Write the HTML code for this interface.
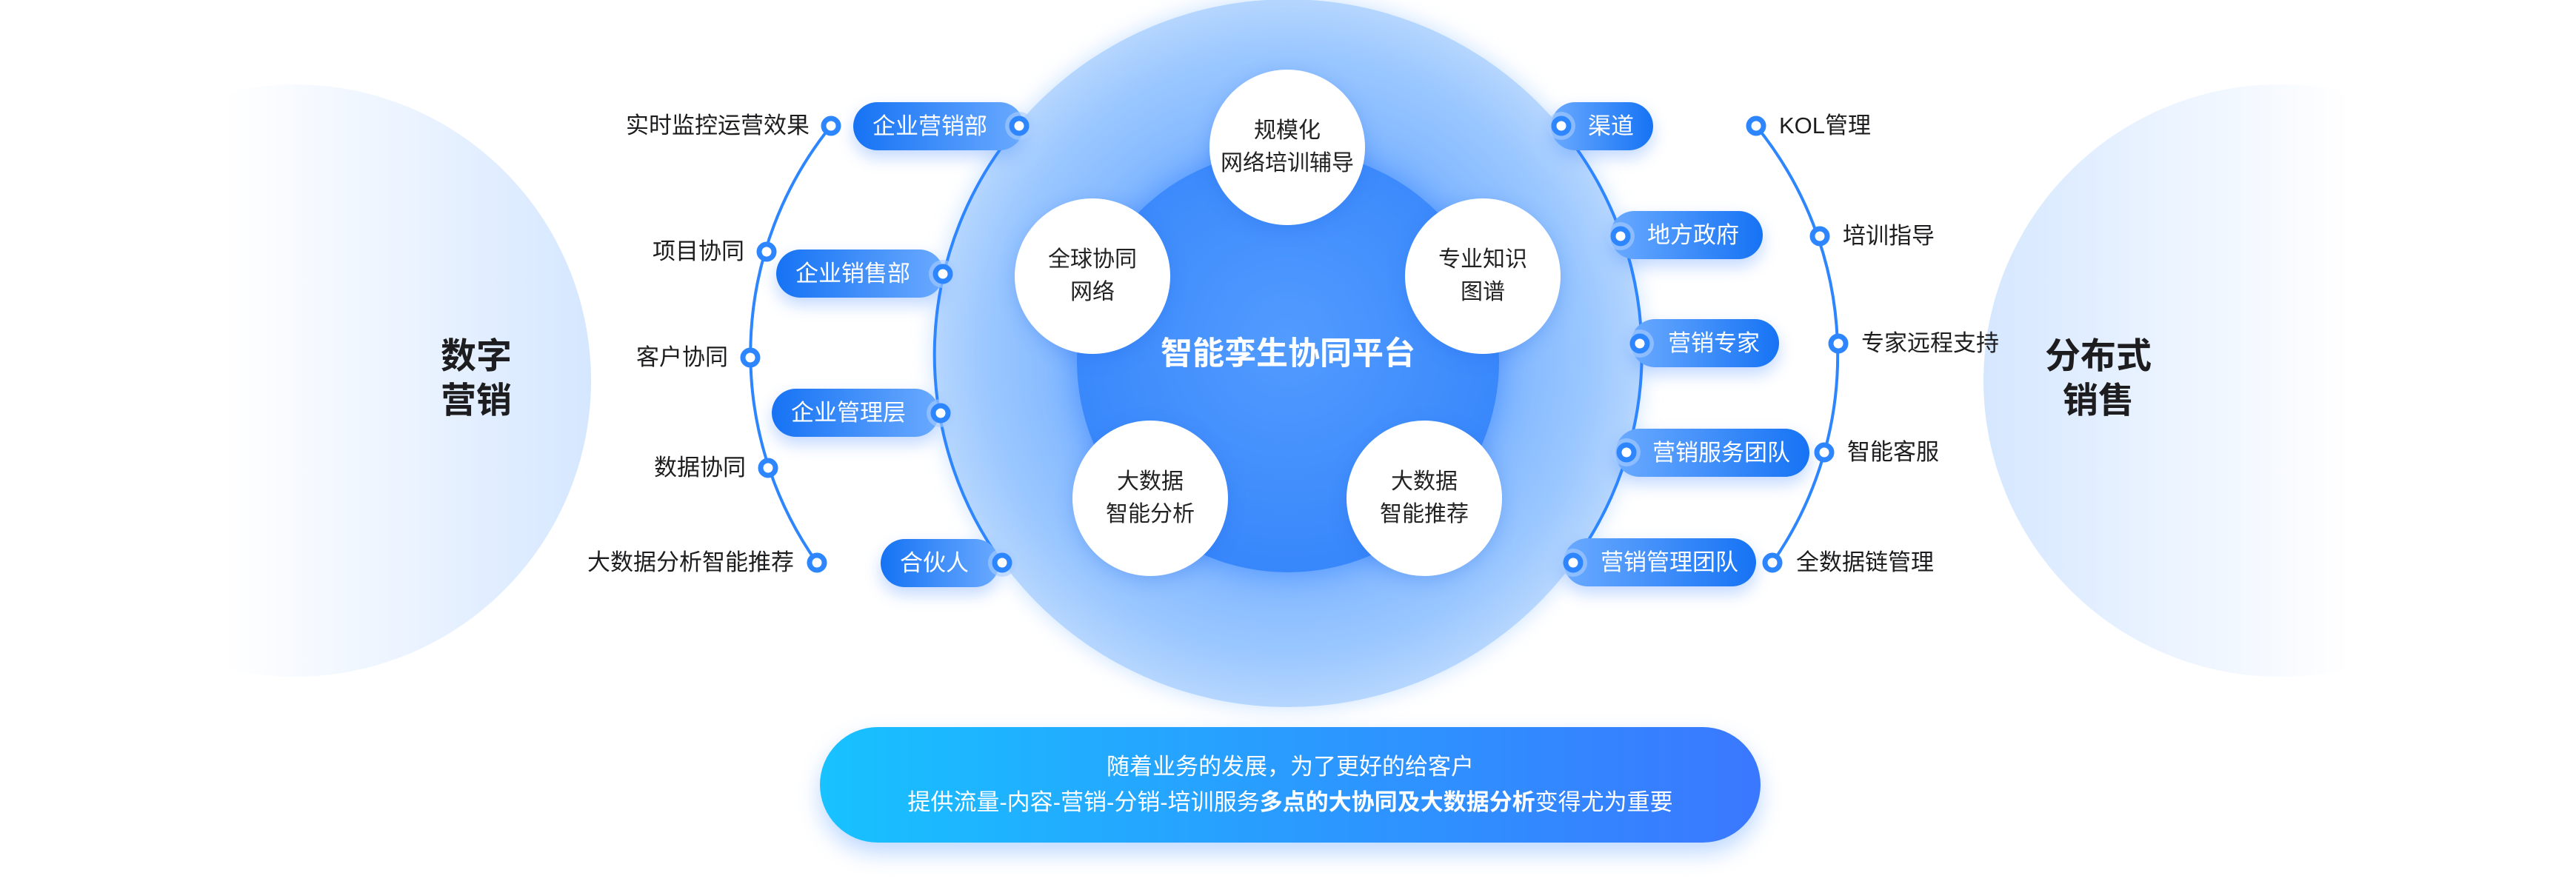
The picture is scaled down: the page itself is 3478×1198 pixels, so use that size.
<!DOCTYPE html>
<html><head><meta charset="utf-8"><style>
*{margin:0;padding:0;box-sizing:border-box}
body{width:3478px;height:1198px;background:#fff;position:relative;overflow:hidden;font-family:"Liberation Sans","Noto Sans CJK SC",sans-serif}
.abs{position:absolute}
.bub{position:absolute;width:800px;height:800px;border-radius:50%;top:114px}
.big{position:absolute;font-size:48px;font-weight:bold;color:#1d1d1f;line-height:60px;text-align:center;width:200px}
.pill{position:absolute;height:65px;border-radius:33px;color:#fff;font-size:31px;line-height:65px;box-shadow:0 10px 22px rgba(40,120,255,.28)}
.pl{background:linear-gradient(90deg,#1673f4,#6aaaff);padding-left:26px}
.pr{background:linear-gradient(90deg,#6aaaff,#1673f4);padding-left:50px}
.lab{position:absolute;font-size:31px;color:#1d1d1f;line-height:40px;white-space:nowrap}
.sat{position:absolute;width:210px;height:210px;border-radius:50%;background:#fff;box-shadow:0 6px 24px rgba(30,100,230,.25);font-size:30px;line-height:44px;color:#222;display:flex;align-items:center;justify-content:center;text-align:center}
</style></head><body>
<div class="bub" style="left:-2px;background:linear-gradient(90deg,#fff 38%,#eef5ff 65%,#d5e7ff 100%)"></div>
<div class="bub" style="left:2678px;background:linear-gradient(270deg,#fff 38%,#eef5ff 65%,#d5e7ff 100%)"></div>
<div class="big" style="left:543px;top:452px">数字<br>营销</div>
<div class="big" style="left:2733px;top:452px">分布式<br>销售</div>

<div class="abs" style="left:1261px;top:-1px;width:956px;height:956px;border-radius:50%;background:radial-gradient(circle,#6aa9ff 0%,#7cb4ff 40%,#9ac7ff 60%,#c8e0fe 78%,#eef6ff 90%,#c0dbff 96%,#94c1ff 100%);box-shadow:0 0 30px rgba(120,180,255,.4)"></div>
<div class="abs" style="left:1454px;top:203px;width:570px;height:570px;border-radius:50%;background:radial-gradient(circle at 50% 45%,#529bff,#3988fb 70%,#3182f8);box-shadow:0 0 40px rgba(40,120,255,.55)"></div>
<div class="abs" style="left:1539px;top:448px;width:400px;text-align:center;color:#fff;font-weight:bold;font-size:43px;line-height:60px">智能孪生协同平台</div>

<div class="sat" style="left:1633px;top:94px">规模化<br>网络培训辅导</div>
<div class="sat" style="left:1370px;top:268px">全球协同<br>网络</div>
<div class="sat" style="left:1897px;top:268px">专业知识<br>图谱</div>
<div class="sat" style="left:1448px;top:568px">大数据<br>智能分析</div>
<div class="sat" style="left:1818px;top:568px">大数据<br>智能推荐</div>

<svg class="abs" style="left:0;top:0" width="3478" height="1198">
<g fill="none" stroke="#2e86ff" stroke-width="4">
<path d="M1375 170 A478 478 0 0 0 1353 760"/>
<path d="M2105 170 A478 478 0 0 1 2124 760"/>
<path d="M1122 170 A489.5 489.5 0 0 0 1103 760"/>
<path d="M2371 170 A490 490 0 0 1 2393 760"/>
</g>
<g fill="#fff" stroke="#2e86ff" stroke-width="7">
<circle cx="1122" cy="170" r="10"/><circle cx="1035" cy="340" r="10"/><circle cx="1013" cy="483" r="10"/><circle cx="1037" cy="632" r="10"/><circle cx="1103" cy="760" r="10"/>
<circle cx="2371" cy="170" r="10"/><circle cx="2457" cy="319" r="10"/><circle cx="2482" cy="464" r="10"/><circle cx="2463" cy="611" r="10"/><circle cx="2393" cy="760" r="10"/>
</g>
</svg>

<div class="pill pl" style="left:1152px;top:138px;width:230px">企业营销部</div>
<div class="pill pl" style="left:1048px;top:337px;width:226px">企业销售部</div>
<div class="pill pl" style="left:1042px;top:525px;width:226px">企业管理层</div>
<div class="pill pl" style="left:1189px;top:728px;width:160px">合伙人</div>
<div class="pill pr" style="left:2094px;top:138px;width:138px">渠道</div>
<div class="pill pr" style="left:2174px;top:285px;width:206px">地方政府</div>
<div class="pill pr" style="left:2202px;top:431px;width:200px">营销专家</div>
<div class="pill pr" style="left:2181px;top:579px;width:262px">营销服务团队</div>
<div class="pill pr" style="left:2111px;top:727px;width:260px">营销管理团队</div>
<svg class="abs" style="left:0;top:0" width="3478" height="1198">
<g fill="rgba(170,205,255,.6)">
<circle cx="1376" cy="170" r="19"/><circle cx="1273" cy="370" r="19"/><circle cx="1270" cy="558" r="19"/><circle cx="1353" cy="760" r="19"/>
<circle cx="2108" cy="170" r="19"/><circle cx="2188" cy="319" r="19"/><circle cx="2214" cy="464" r="19"/><circle cx="2196" cy="611" r="19"/><circle cx="2124" cy="760" r="19"/>
</g>
<g fill="#fff" stroke="#2e86ff" stroke-width="7">
<circle cx="1376" cy="170" r="10"/><circle cx="1273" cy="370" r="10"/><circle cx="1270" cy="558" r="10"/><circle cx="1353" cy="760" r="10"/>
<circle cx="2108" cy="170" r="10"/><circle cx="2188" cy="319" r="10"/><circle cx="2214" cy="464" r="10"/><circle cx="2196" cy="611" r="10"/><circle cx="2124" cy="760" r="10"/>
</g>
</svg>

<div class="lab" style="right:2385px;top:150px">实时监控运营效果</div>
<div class="lab" style="right:2473px;top:320px">项目协同</div>
<div class="lab" style="right:2495px;top:463px">客户协同</div>
<div class="lab" style="right:2471px;top:612px">数据协同</div>
<div class="lab" style="right:2406px;top:740px">大数据分析智能推荐</div>
<div class="lab" style="left:2402px;top:150px">KOL管理</div>
<div class="lab" style="left:2488px;top:299px">培训指导</div>
<div class="lab" style="left:2513px;top:444px">专家远程支持</div>
<div class="lab" style="left:2494px;top:591px">智能客服</div>
<div class="lab" style="left:2425px;top:740px">全数据链管理</div>

<div class="abs" style="left:1107px;top:982px;width:1270px;height:156px;border-radius:78px;background:linear-gradient(90deg,#17c2ff,#2a9bff 50%,#3a78ff);box-shadow:0 14px 30px rgba(40,130,255,.3);color:#fff;font-size:31px;line-height:48px;text-align:center;padding-top:30px">
随着业务的发展，为了更好的给客户<br>提供流量-内容-营销-分销-培训服务<b>多点的大协同及大数据分析</b>变得尤为重要
</div>
</body></html>
